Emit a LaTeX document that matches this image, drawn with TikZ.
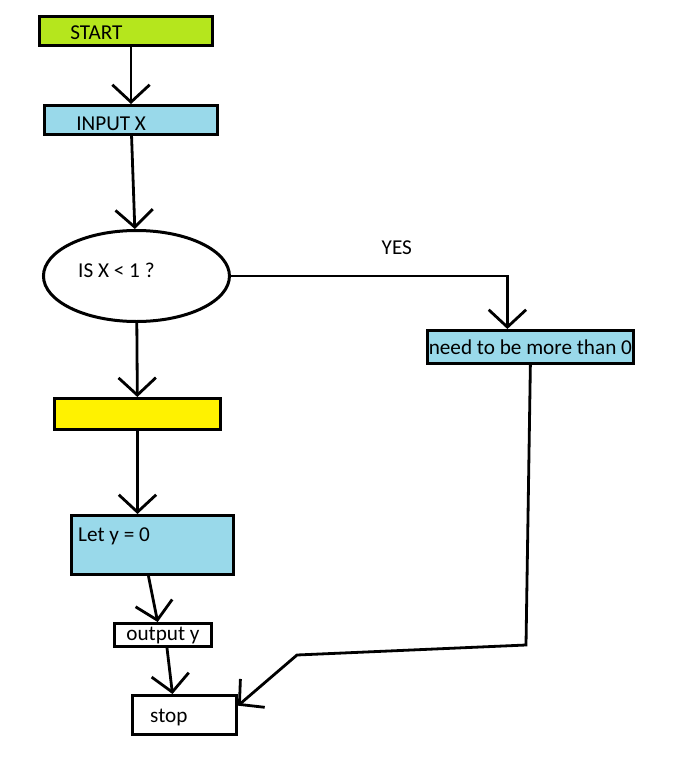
\documentclass[tikz,border=0pt]{standalone}
\usepackage{fontspec}
\setmainfont{Carlito}
\usetikzlibrary{arrows.meta,positioning,shapes.geometric}

\definecolor{limefill}{HTML}{B5E61D}
\definecolor{bluefill}{HTML}{99D9EA}
\definecolor{yellowfill}{HTML}{FFF200}

\tikzset{
  box/.style={draw, rectangle, line width=2.25pt, inner sep=1pt},
  oval/.style={draw, ellipse, line width=2.25pt, inner sep=0pt},
  txt/.style={anchor=west, inner sep=0pt},
  flow/.style={line width=2.1pt, -{Straight Barb[length=13pt, width=28pt]}}
}

\begin{document}
\begin{tikzpicture}[x=0.75pt, y=-0.75pt, font=\fontsize{15.9}{19}\selectfont]
            \useasboundingbox (0,0) rectangle (679,760);
            \node (start) [box, fill=limefill, minimum width=129.75pt, minimum height=21.75pt,
                           label={[txt, xshift=24pt, yshift=-1.5pt]west:START}] at (126,31) {};
            \node (input) [box, fill=bluefill, minimum width=129.75pt, minimum height=21.75pt,
                           below=42.75pt of start, xshift=3.75pt,
                           label={[txt, xshift=24.75pt, yshift=-3pt]west:INPUT X}] {};
            \node (dec)   [oval, minimum width=139.5pt, minimum height=68.25pt,
                           below=69.75pt of input, xshift=4.1pt,
                           label={[txt, xshift=27pt, yshift=4.5pt]west:IS X < 1 ?}] {};
            \node (hold)  [box, fill=yellowfill, minimum width=124.5pt, minimum height=23.25pt,
                           below=55.5pt of dec, xshift=0.75pt] {};
            \node (lety)  [box, fill=bluefill, minimum width=121.5pt, minimum height=44.25pt,
                           below=62.25pt of hold, xshift=11.25pt,
                           label={[txt, xshift=6pt, yshift=6.75pt]west:Let y = 0}] {};
            \node (outy)  [box, minimum width=72.75pt, minimum height=17.25pt,
                           below=34.5pt of lety, xshift=7.9pt] {output y};
            \node (stop)  [box, minimum width=78pt, minimum height=29.25pt,
                           below=34.5pt of outy, xshift=16.1pt,
                           label={[txt, xshift=14.25pt, yshift=-1.5pt]west:stop}] {};
            \node (need)  [box, fill=bluefill, minimum width=149.25pt, minimum height=24.75pt,
                           right=146.25pt of dec, yshift=-53.25pt] {need to be more than 0};
            \coordinate (turn) at (526,645);
            \coordinate (kink) at (297,655);
            \draw[flow] ([xshift=3.75pt]start.south) -- (input);
            \draw[flow] (input) -- (dec);
            \draw[flow] (dec)   -- (hold);
            \draw[flow] (hold.south) -- (hold.south |- lety.north);
            \draw[flow] ([xshift=-3pt]lety.south) -- ([xshift=-4pt]outy.north);
            \draw[flow] ([xshift=3pt]outy.south) -- ([xshift=-9pt]stop.north);
            \draw[flow] (dec.east) -| ([xshift=-17.25pt]need.north) node[pos=0.3, above=12pt] {YES};
            \draw[flow] (need.south) -- (turn) -- (kink) -- ([yshift=7pt]stop.east);
        \end{tikzpicture}
\end{document}
